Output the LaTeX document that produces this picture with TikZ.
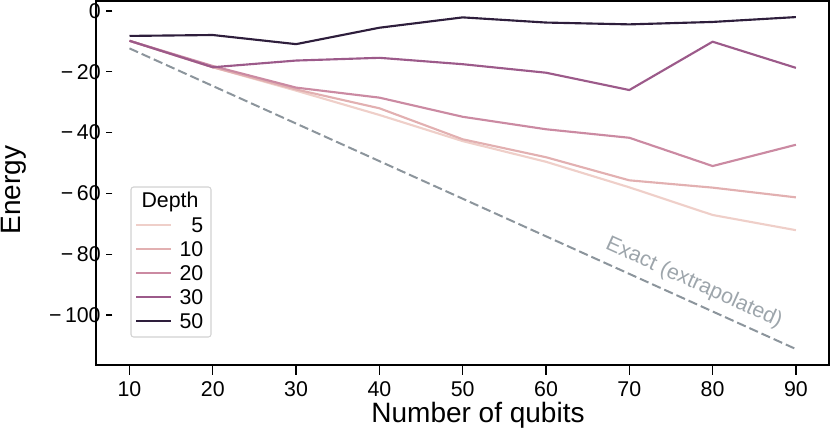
\documentclass[tikz,border=0pt]{standalone}
\usepackage{fontspec}
\setmainfont{Liberation Sans}
\begin{document}
\begin{tikzpicture}[x=0.75pt,y=-0.75pt,
  tick/.style={font=\fontsize{16}{19}\selectfont},
  curve/.style={line width=1.6pt,line join=round},
  c5/.style={curve,draw=col5},c10/.style={curve,draw=col10},c20/.style={curve,draw=col20},
  c30/.style={curve,draw=col30},c50/.style={curve,draw=col50}]
\definecolor{col5}{HTML}{EFCFC9}
\definecolor{col10}{HTML}{E2B0B1}
\definecolor{col20}{HTML}{CB8AA2}
\definecolor{col30}{HTML}{9C5A8A}
\definecolor{col50}{HTML}{2E1E3C}
\definecolor{exactc}{HTML}{8C959C}
\useasboundingbox (0,0) rectangle (831,431);
% data
\begin{scope}[shift={(46.2,11)},x=6.2475pt,y=2.28pt]
\draw[exactc,line width=1.5pt,dash pattern=on 7pt off 3pt] (10,-12.3) -- (90,-111.2);
\draw[c5] (10,-9.8)--(20,-18.5)--(30,-26.2)--(40,-34.2)--(50,-42.8)--(60,-49.6)--(70,-58)--(80,-67.1)--(90,-72.1);
\draw[c10] (10,-9.8)--(20,-18.5)--(30,-25.8)--(40,-32)--(50,-42.2)--(60,-48.1)--(70,-55.7)--(80,-58.1)--(90,-61.3);
\draw[c20] (10,-9.8)--(20,-18.1)--(30,-25.2)--(40,-28.5)--(50,-34.8)--(60,-38.9)--(70,-41.7)--(80,-51)--(90,-44);
\draw[c30] (10,-9.8)--(20,-18.5)--(30,-16.3)--(40,-15.4)--(50,-17.5)--(60,-20.3)--(70,-26)--(80,-10.1)--(90,-18.7);
\draw[c50] (10,-8.2)--(20,-7.9)--(30,-10.9)--(40,-5.5)--(50,-2.1)--(60,-3.8)--(70,-4.4)--(80,-3.6)--(90,-2.0);
\foreach \q in {10,20,...,90} {
  \draw[line width=1pt] (\q,-116.9) -- ++(0,-2.7);
  \node[tick,anchor=north] at (\q,-120.5) {\q};
}
\foreach \e/\t in {0/0,-20/−\,20,-40/−\,40,-60/−\,60,-80/−\,80,-100/−\,100} {
  \draw[line width=1pt] (7.95,\e) -- ++(-0.75,0);
  \node[tick,anchor=east] at (7.1,\e) {\t};
}
\end{scope}
\node[text=exactc!85!white,rotate=-24.3,font=\fontsize{16}{19}\selectfont] at (694,283) {Exact (extrapolated)};
\draw[line width=1pt] (96,1) rectangle (829,365);
% legend
\draw[gray!35,fill=white,rounded corners=2pt,line width=0.8pt] (131,187) rectangle (211,337);
\node[font=\fontsize{16}{19}\selectfont] at (170,202) {Depth};
\foreach \c/\l/\y in {col5/5/225,col10/10/249,col20/20/273,col30/30/297,col50/50/321} {
  \draw[\c,line width=1.6pt] (136,\y) -- (171,\y);
  \node[font=\fontsize{16}{19}\selectfont,anchor=east] at (208,\y) {\l};
}
\node[font=\fontsize{21}{25}\selectfont] at (478,415) {Number of qubits};
\node[font=\fontsize{21}{25}\selectfont,rotate=90] at (14,190) {Energy};
\end{tikzpicture}
\end{document}
